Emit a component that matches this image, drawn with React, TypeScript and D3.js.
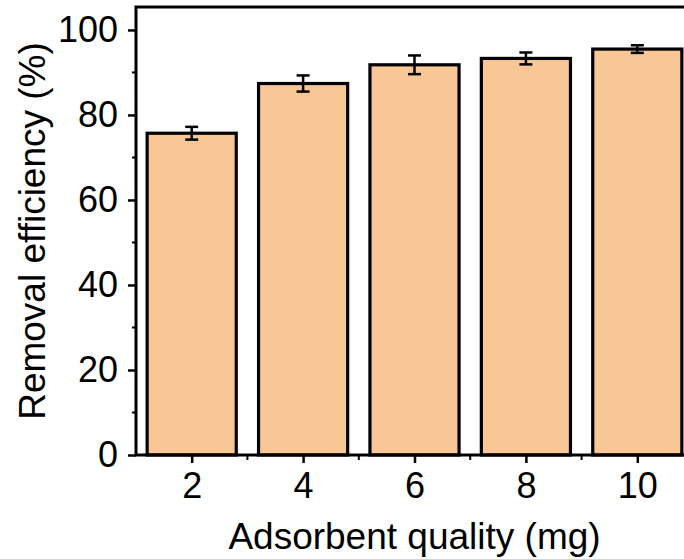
import { useEffect, useRef } from "react";
import * as d3 from "d3";

const masses = [2, 4, 6, 8, 10];
const efficiency = [75.7, 87.4, 91.8, 93.3, 95.5];
const errors = [1.5, 1.9, 2.2, 1.4, 0.9];
const yTicks = [0, 20, 40, 60, 80, 100];
const yMinor = [10, 30, 50, 70, 90];
const xMinor = [3, 5, 7, 9];

const App = () => {
  const ref = useRef<SVGSVGElement>(null);

  useEffect(() => {
    const width = 684;
    const height = 559;
    const left = 136;
    const right = 693;
    const top = 7;
    const bottom = 455;

    const svg = d3.select(ref.current).attr("width", width).attr("height", height);
    svg.selectAll("*").remove();

    // scales
    const x = d3.scaleLinear().domain([1, 11]).range([left, right]);
    const y = d3.scaleLinear().domain([0, 105.4]).range([bottom, top]);
    const barW = (x(2) - x(0)) * 0.8;

    // bars
    svg
      .selectAll("rect.bar")
      .data(efficiency)
      .enter()
      .append("rect")
      .attr("class", "bar")
      .attr("x", (d, i) => x(masses[i]) - barW / 2)
      .attr("y", (d) => y(d))
      .attr("width", barW)
      .attr("height", (d) => y(0) - y(d))
      .attr("fill", "#f9c795")
      .attr("stroke", "#000")
      .attr("stroke-width", 3.2);

    // error bars
    const eb = svg.append("g").attr("stroke", "#000").attr("stroke-width", 2.5);
    efficiency.forEach((d, i) => {
      const cx = x(masses[i]);
      const hi = y(d + errors[i]);
      const lo = y(d - errors[i]);
      eb.append("line").attr("x1", cx).attr("x2", cx).attr("y1", hi).attr("y2", lo);
      eb.append("line").attr("x1", cx - 6.5).attr("x2", cx + 6.5).attr("y1", hi).attr("y2", hi);
      eb.append("line").attr("x1", cx - 6.5).attr("x2", cx + 6.5).attr("y1", lo).attr("y2", lo);
    });

    // frame (right edge falls outside the picture)
    svg
      .append("rect")
      .attr("x", left)
      .attr("y", top)
      .attr("width", right - left)
      .attr("height", bottom - top)
      .attr("fill", "none")
      .attr("stroke", "#000")
      .attr("stroke-width", 3);

    // y axis
    const yAxis = d3
      .axisLeft(y)
      .tickValues(yTicks)
      .tickSize(8)
      .tickPadding(10)
      .tickFormat(d3.format("d"));
    const gy = svg.append("g").attr("transform", `translate(${left},0)`).call(yAxis);
    gy.select(".domain").remove();
    gy.selectAll(".tick line").attr("stroke-width", 2.5);
    gy.selectAll(".tick text")
      .attr("font-family", "Liberation Sans, Arial, sans-serif")
      .attr("font-size", 36)
      .attr("fill", "#000");

    svg
      .append("g")
      .selectAll("line")
      .data(yMinor)
      .enter()
      .append("line")
      .attr("x1", left - 4)
      .attr("x2", left)
      .attr("y1", (d) => y(d))
      .attr("y2", (d) => y(d))
      .attr("stroke", "#000")
      .attr("stroke-width", 2);

    // x axis
    const xAxis = d3.axisBottom(x).tickValues(masses).tickSize(8).tickPadding(9);
    const gx = svg.append("g").attr("transform", `translate(0,${bottom})`).call(xAxis);
    gx.select(".domain").remove();
    gx.selectAll(".tick line").attr("stroke-width", 2.5);
    gx.selectAll(".tick text")
      .attr("font-family", "Liberation Sans, Arial, sans-serif")
      .attr("font-size", 36)
      .attr("fill", "#000");

    svg
      .append("g")
      .selectAll("line")
      .data(xMinor)
      .enter()
      .append("line")
      .attr("x1", (d) => x(d))
      .attr("x2", (d) => x(d))
      .attr("y1", bottom)
      .attr("y2", bottom + 5)
      .attr("stroke", "#000")
      .attr("stroke-width", 2);

    // titles
    svg
      .append("text")
      .attr("x", (left + right) / 2)
      .attr("y", 549)
      .attr("text-anchor", "middle")
      .attr("font-family", "Liberation Sans, Arial, sans-serif")
      .attr("font-size", 37)
      .text("Adsorbent quality (mg)");

    svg
      .append("text")
      .attr("transform", `translate(45,${(top + bottom) / 2}) rotate(-90)`)
      .attr("text-anchor", "middle")
      .attr("font-family", "Liberation Sans, Arial, sans-serif")
      .attr("font-size", 37)
      .text("Removal efficiency (%)");
  }, []);

  return (
    <svg
      ref={ref}
      style={{ position: "absolute", left: 0, top: 0, display: "block", background: "#fff" }}
    ></svg>
  );
};

export default App;
